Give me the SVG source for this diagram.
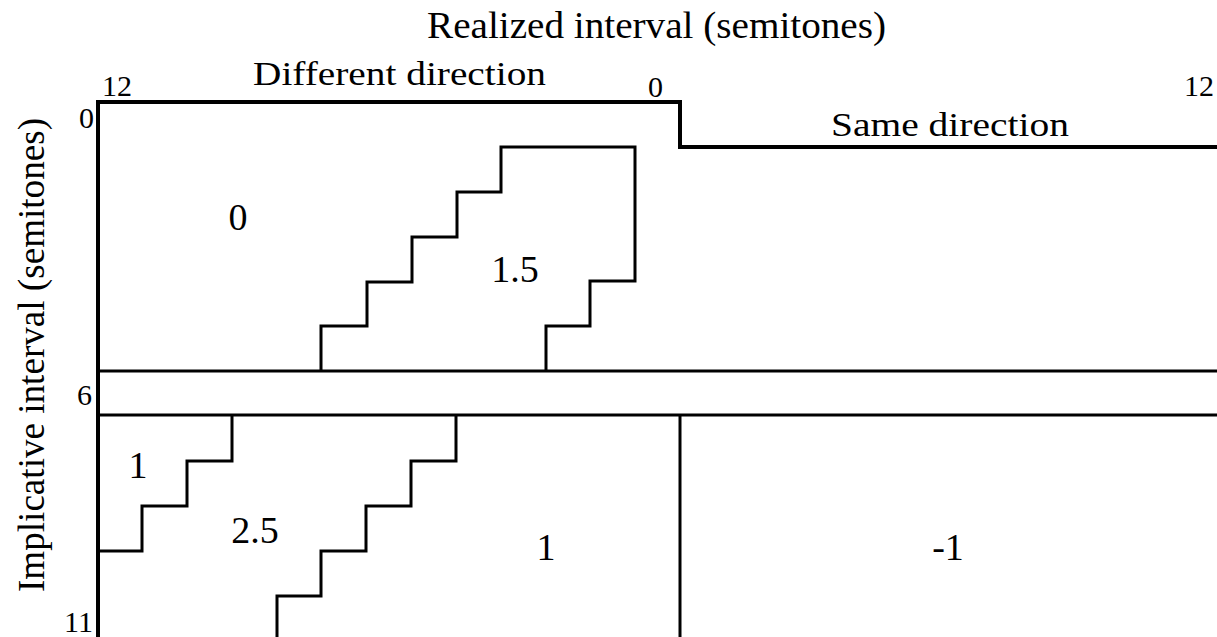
<svg xmlns="http://www.w3.org/2000/svg" width="1217" height="637" viewBox="0 0 1217 637">
  <style>
    text { font-family: "Liberation Serif", "Times New Roman", serif; fill: #000; }
    .title { font-size: 38px; }
    .head { font-size: 34px; }
    .tick { font-size: 30px; }
    .ytick { font-size: 30px; text-anchor: end; }
    .val { font-size: 38px; text-anchor: middle; }
    .frame { fill: none; stroke: #000; stroke-width: 4; stroke-linejoin: miter; }
    .line { fill: none; stroke: #000; stroke-width: 3; stroke-linejoin: miter; }
  </style>
  <rect width="1217" height="637" fill="#fff"/>

  <!-- axis titles -->
  <text class="title" x="427" y="38" textLength="459" lengthAdjust="spacingAndGlyphs">Realized interval (semitones)</text>
  <text class="title" transform="translate(44,592) rotate(-90)" textLength="474" lengthAdjust="spacingAndGlyphs">Implicative interval (semitones)</text>

  <!-- section headings -->
  <text class="head" x="253" y="85" textLength="293" lengthAdjust="spacingAndGlyphs">Different direction</text>
  <text class="head" x="831" y="136" textLength="238" lengthAdjust="spacingAndGlyphs">Same direction</text>

  <!-- tick numbers -->
  <text class="tick" x="102" y="96">12</text>
  <text class="tick" x="648" y="97">0</text>
  <text class="tick" x="1184" y="96">12</text>
  <text class="ytick" x="94" y="128">0</text>
  <text class="ytick" x="92" y="405">6</text>
  <text class="ytick" x="93" y="632">11</text>

  <!-- connectors: frame and region boundaries -->
  <g id="connectors">
    <path class="frame" d="M98,637 V102 H680 V147 H1217"/>
    <path class="line" d="M98,371 H1217"/>
    <path class="line" d="M98,415 H1217"/>
    <path class="line" d="M680,415 V637"/>
  </g>

  <!-- region 1.5 (upper staircase) -->
  <g id="region-1-5">
    <path class="line" d="M321,371 V326 H367 V282 H412 V237 H457 V192 H501 V147 H635 V281 H590 V326 H546 V371"/>
    <text class="val" x="515" y="282">1.5</text>
  </g>

  <!-- region 0 -->
  <g id="region-0">
    <text class="val" x="238" y="230">0</text>
  </g>

  <!-- region 1 (lower-left staircase) -->
  <g id="region-1-left">
    <path class="line" d="M232,415 V461 H187 V506 H142 V551 H98"/>
    <text class="val" x="138" y="478">1</text>
  </g>

  <!-- region 2.5 (lower staircase) -->
  <g id="region-2-5">
    <path class="line" d="M456,415 V461 H411 V506 H366 V551 H321 V596 H277 V637"/>
    <text class="val" x="255" y="543">2.5</text>
  </g>

  <!-- region 1 (lower middle) -->
  <g id="region-1-mid">
    <text class="val" x="546" y="560">1</text>
  </g>

  <!-- region -1 (same direction) -->
  <g id="region-neg1">
    <text class="val" x="948" y="560">-1</text>
  </g>
</svg>
